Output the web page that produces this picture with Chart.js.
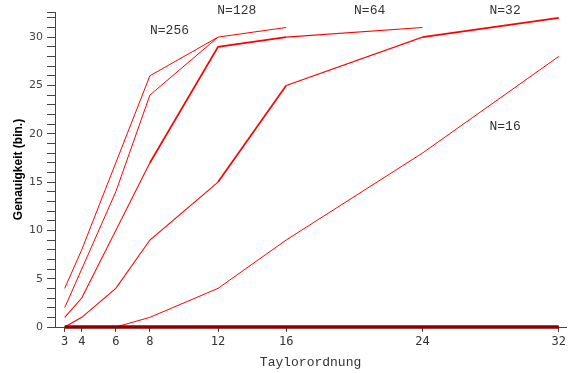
<!DOCTYPE html>
<html>
<head>
<meta charset="utf-8">
<script src="https://cdn.jsdelivr.net/npm/chart.js@4.4.1/dist/chart.umd.min.js"></script>
<style>
    body { margin: 0; background: #fff; }
    #wrap { width: 569px; height: 373px; position: relative; }
</style>
</head>
<body>
<div id="wrap"><canvas id="genauigkeit"></canvas></div>
<script>
// Taylorordnung (x) and accuracy in binary digits per N
var taylorOrders = [3, 4, 6, 8, 12, 16, 24, 32];
var n256 = [4, 8, 17, 26, 30, null, null, null];
var n128 = [2, 6, 14, 24, 30, 31, null, null];
var n64 = [1, 3, 10, 17, 29, 30, 31, null];
var n32 = [0, 1, 4, 9, 15, 25, 30, 32];
var n16 = [0, 0, 0, 1, 4, 9, 18, 28];
var nLow = [0, 0, 0, 0, 0, 0, 0, 0];

var seriesNames = ["N=256", "N=128", "N=64", "N=32", "N=16"];

// where the N labels sit, in data units
var labelAt = {
    "N=256": [9.15, 30.7],
    "N=128": [13.1, 32.7],
    "N=64": [20.9, 32.7],
    "N=32": [28.85, 32.7],
    "N=16": [28.85, 20.7],
};

function toPoints(values) {
    var pts = [];
    for (var i in values) {
        if (values[i] !== null) pts.push({ x: taylorOrders[i], y: values[i] });
    }
    return pts;
}

function line(name, values, width, color, heavyFrom) {
    var ds = {
        label: name,
        data: toPoints(values),
        borderColor: color || "#ff0000",
        borderWidth: width,
        pointRadius: 0,
        fill: false,
        tension: 0,
        clip: 6,
    };
    // some segments look heavier in the original (overlapping runs)
    if (heavyFrom) {
        ds.segment = {
            borderWidth: function (c) {
                return heavyFrom(c.p0.parsed.x) ? 1.7 : width;
            },
        };
    }
    return ds;
}

var nLabels = {
    id: "nLabels",
    afterDatasetsDraw: function (chart) {
        var ctx = chart.ctx;
        var xs = chart.scales.x;
        var ys = chart.scales.y;
        ctx.save();
        ctx.font = "13px 'Liberation Mono', monospace";
        ctx.fillStyle = "#333";
        ctx.textAlign = "center";
        ctx.textBaseline = "middle";
        seriesNames.forEach(function (n) {
            var p = labelAt[n];
            ctx.fillText(n, xs.getPixelForValue(p[0]), ys.getPixelForValue(p[1]));
        });
        ctx.restore();
    },
};

var ctx = document.getElementById("genauigkeit").getContext("2d");
var chart = new Chart(ctx, {
    type: "line",
    data: {
        datasets: [
            line("", nLow, 3.4, "#8a0000"),
            line("", nLow, 1.8, "#ff0000"),
            line("N=256", n256, 1),
            line("N=128", n128, 1),
            line("N=64", n64, 1.1, null, function (x) { return x >= 8 && x < 16; }),
            line("N=32", n32, 1.1, null, function (x) { return x === 12 || x === 24; }),
            line("N=16", n16, 1),
        ],
    },
    options: {
        responsive: true,
        maintainAspectRatio: false,
        animation: false,
        layout: { padding: { top: 12, left: 0, right: 0, bottom: 0 } },
        plugins: {
            legend: { display: false },
            tooltip: { enabled: false },
        },
        scales: {
            x: {
                type: "linear",
                min: 2.43,
                max: 32.43,
                afterBuildTicks: function (scale) {
                    scale.ticks = taylorOrders.map(function (v) {
                        return { value: v };
                    });
                },
                afterFit: function (scale) {
                    scale.height = 46;
                },
                ticks: {
                    autoSkip: false,
                    maxRotation: 0,
                    padding: 3,
                    color: "#333",
                    font: { family: "'DejaVu Sans Mono', monospace", size: 12 },
                    callback: function (v) {
                        return v;
                    },
                },
                grid: {
                    drawOnChartArea: false,
                    drawTicks: true,
                    tickLength: 5,
                    color: "#444",
                },
                border: { display: true, color: "#444", width: 1 },
                title: {
                    display: true,
                    text: "Taylorordnung",
                    color: "#333",
                    font: { family: "'Liberation Mono', monospace", size: 13 },
                    padding: { top: 0, bottom: 3 },
                },
            },
            y: {
                min: 0,
                max: 32.6,
                afterBuildTicks: function (scale) {
                    var t = [];
                    for (var v = 0; v <= 32; v++) t.push({ value: v });
                    t.push({ value: 32.6 });
                    scale.ticks = t;
                },
                afterFit: function (scale) {
                    scale.width = 55;
                },
                ticks: {
                    autoSkip: false,
                    padding: 4,
                    color: "#444",
                    font: { family: "'DejaVu Sans', sans-serif", size: 11 },
                    callback: function (v) {
                        return v % 5 === 0 ? v : "";
                    },
                },
                grid: {
                    drawOnChartArea: false,
                    drawTicks: true,
                    tickLength: 8,
                    color: "#444",
                },
                border: { display: true, color: "#444", width: 1 },
                title: {
                    display: true,
                    text: "Genauigkeit (bin.)",
                    color: "#000",
                    font: { family: "'Liberation Sans', sans-serif", size: 12, weight: "bold" },
                    padding: { top: 11, bottom: 0 },
                },
            },
        },
    },
    plugins: [nLabels],
});
</script>
</body>
</html>
